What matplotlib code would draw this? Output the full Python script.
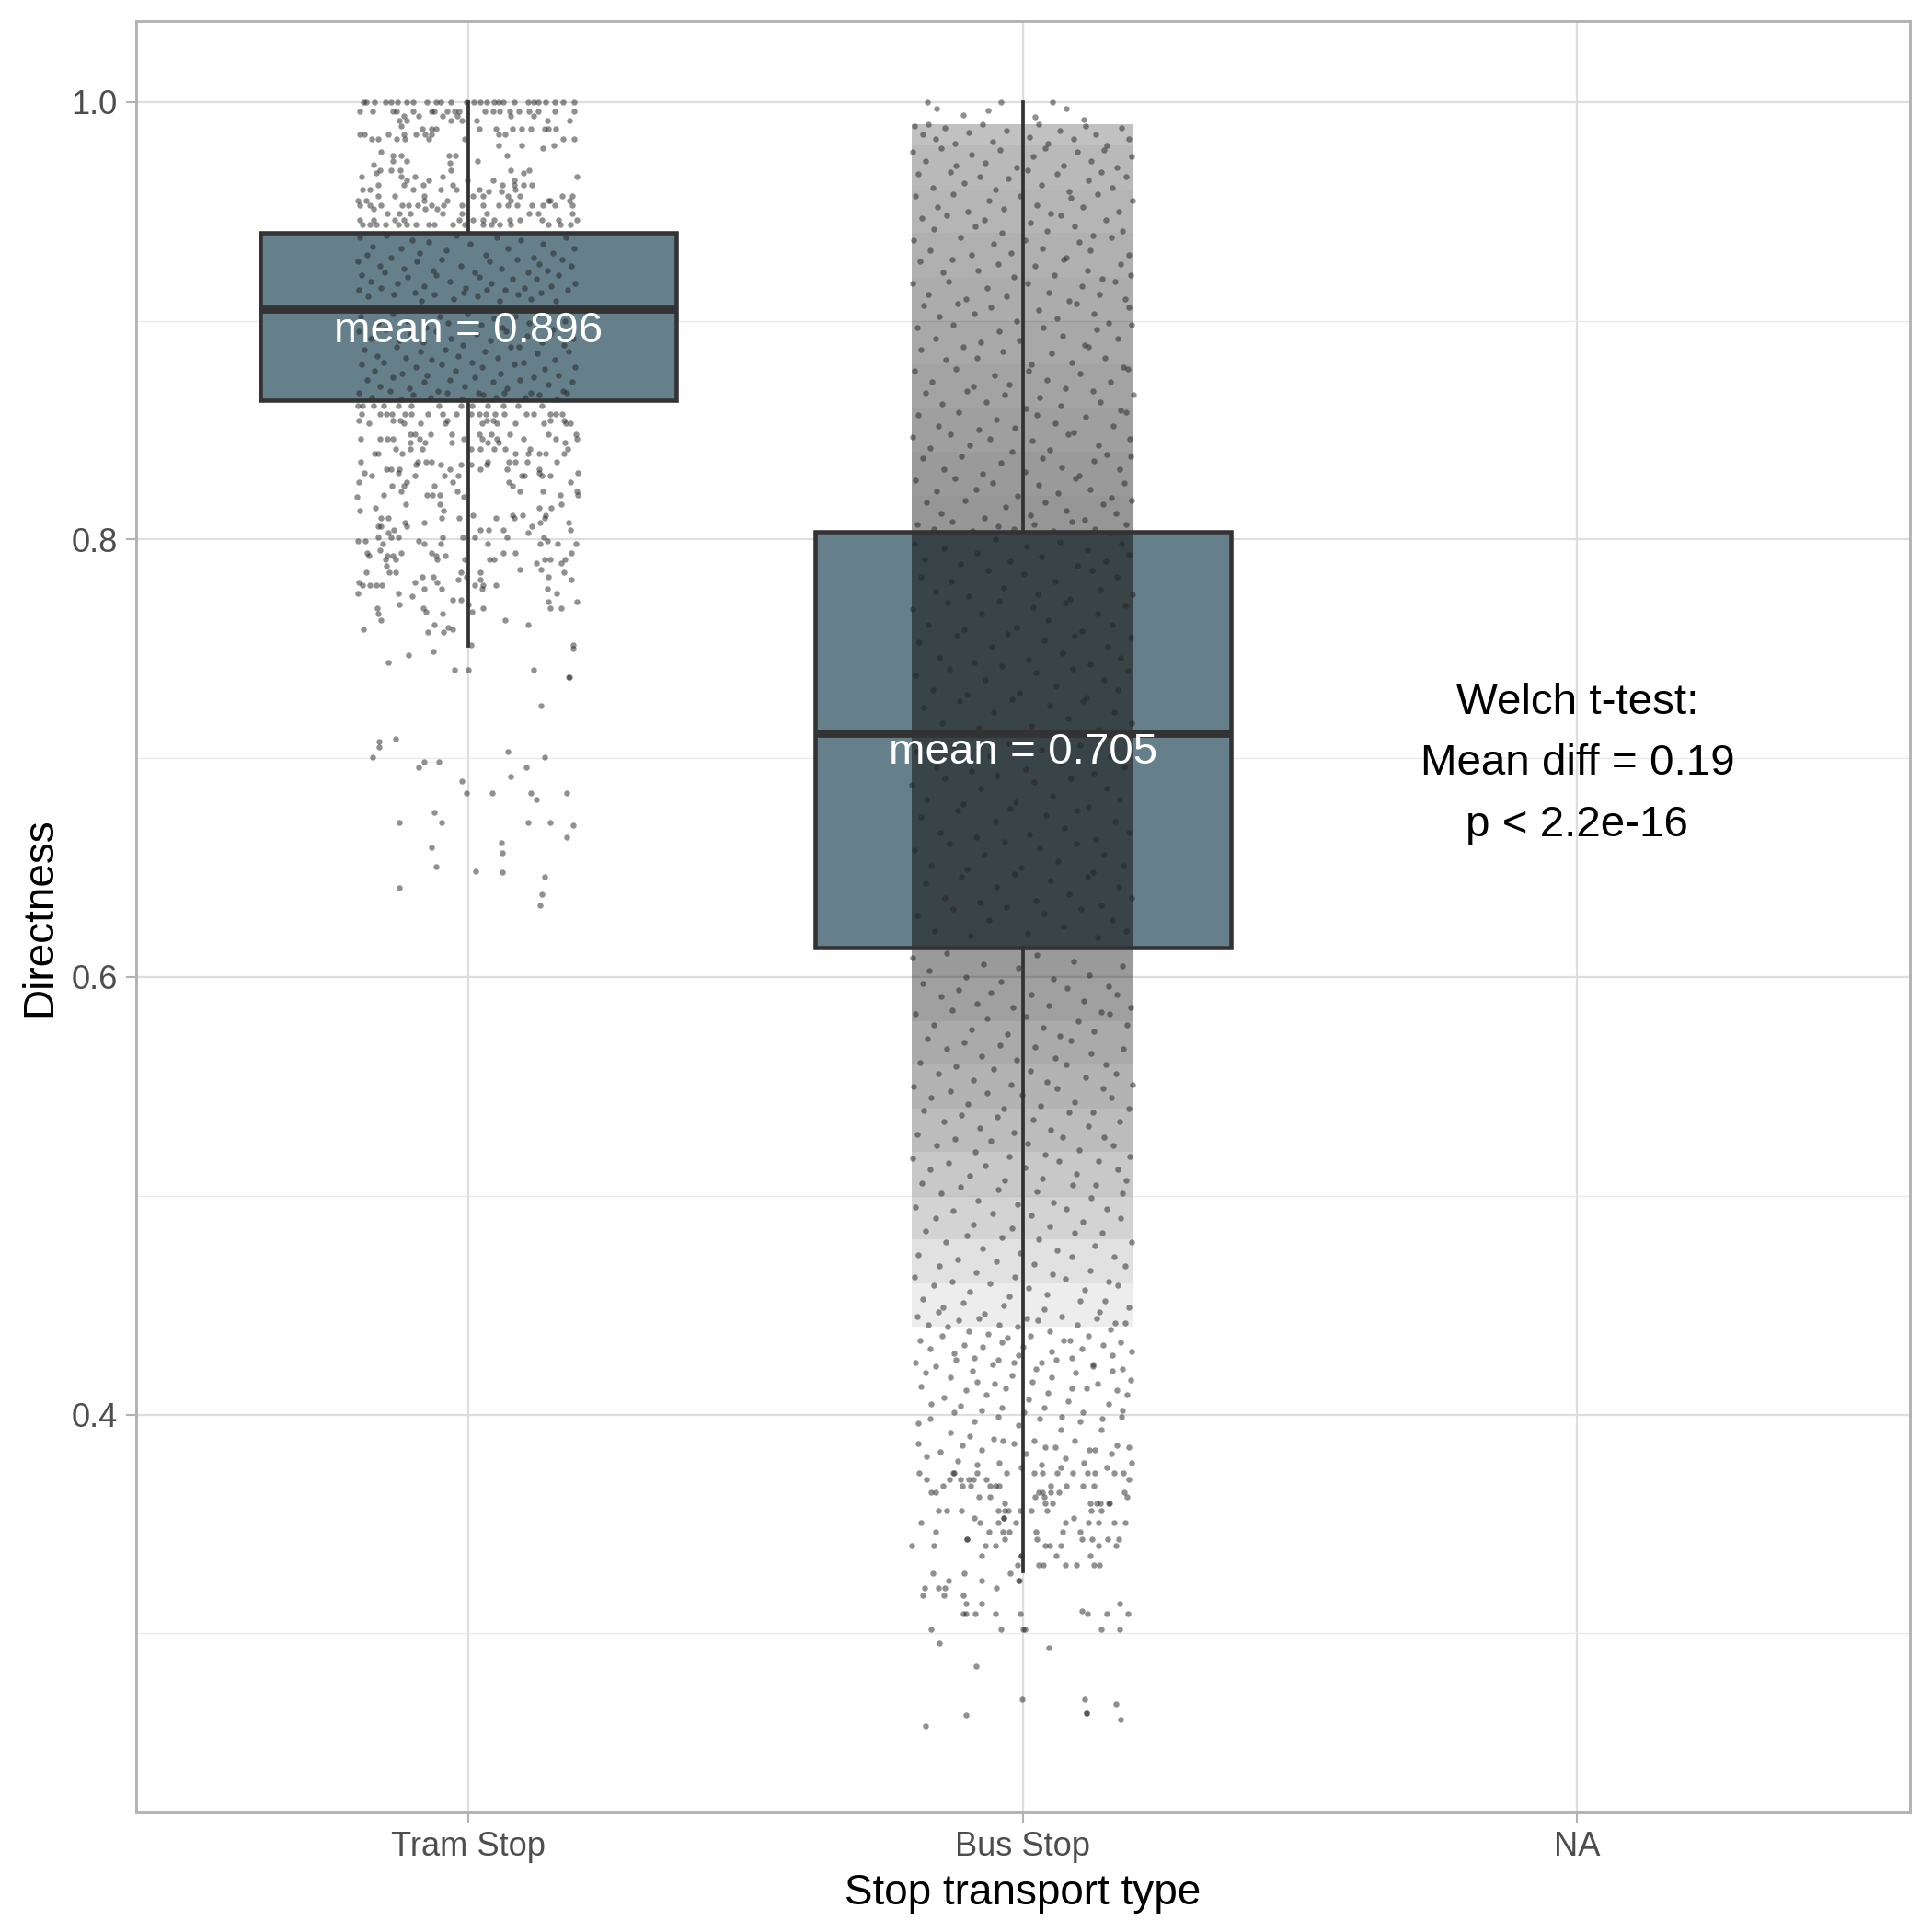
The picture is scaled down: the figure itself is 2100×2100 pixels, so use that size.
#!/usr/bin/env python
# -*- coding: utf-8 -*-
"""
Directness by stop transport type: boxplot with jittered points.
Points are read off the picture: rows are (directness, [jitter in 1/1000 x unit, ...]),
clouds are (jitter, directness) pairs, both in 1/1000.
The bus cloud is too dense to read point by point, so bus_band_* holds its read darkness per y bin.
"""
import matplotlib
matplotlib.use("Agg")
import matplotlib.pyplot as plt

categories = ["Tram Stop", "Bus Stop", "NA"]
y_ticks = [0.4, 0.6, 0.8, 1.0]
y_minor = [0.3, 0.5, 0.7, 0.9]

tram_box = dict(whislo=0.7514, q1=0.8636, med=0.9054, q3=0.9403, whishi=1.0)
bus_box = dict(whislo=0.3283, q1=0.6135, med=0.7115, q3=0.8034, whishi=1.0)
mean_label_y = [0.895, 0.7025]
mean_labels = ["mean = 0.896", "mean = 0.705"]
test_label = "Welch t-test:\nMean diff = 0.19\np < 2.2e-16"

tram_rows = [
    (1.000, [-184, -169, -150, -128, -111, -100, -58, -50, -31, -3, 10, 21, 33, 46, 63, 82, 118, 126, 140, 156, 170, 191, -190, -140, -75, 55, 108]),
    (0.9958, [-196, -173, -136, -130, -99, -67, -61, -39, -25, -17, 30, 44, 57, 74, 91, 109, 126, 156, 190]),
    (0.9937, [-116, -89, -47, -20, 77, 118]),
    (0.9916, [-125, -111, -31, -12, 15, 143, 182]),
    (0.989, [-122]),
    (0.9878, [-83, -67, -58, 20, 49, 79, 96, 112, 137, 145, 158]),
    (0.9853, [-196, -188, -144, -116, -94, -78, -67, 55, 66]),
    (0.983, [-174, -163, -130, -115, -72, -6, 190, 170]),
    (0.98, [55, 96, 154]),
    (0.979, [134]),
    (0.9772, [-158]),
    (0.9755, [-136, -122, -35, -23, 70]),
    (0.973, [-136, -111, 16]),
    (0.972, [-34]),
    (0.9713, [-171]),
    (0.969, [-160, -140, -123, -31, 77, 110]),
    (0.9675, [-166, 99]),
    (0.966, [-193, -122, -97, -46, 195]),
    (0.9643, [-111, -72, 44, 82, -1]),
    (0.962, [-162, -28, -82, -116, 61, 100, 82, 115]),
    (0.96, [-100, -191, -177, -50, -21, 19, 85]),
    (0.959, [36, 60]),
    (0.957, [-163, -133, -80, 8, 27, 71, 93, 169, 187]),
    (0.955, [-199, -185, -80, -39, 145, 77, 148, 182]),
    (0.9527, [-196, -177, -158, -119, -108, -91, -67, -45, -12, 27, 55, 71, 88, 115, 134, 156, 187]),
    (0.951, [-171, -78, -56]),
    (0.949, [-147, -125, -105, -47, -12, 33, 110, 126, 187]),
    (0.946, [-196, -171, -133, -116, -17, 8, 27, 46, 74, 93, 132, 162, 195]),
    (0.944, [-191, -177, -166, -149, -127, -111, -94, -72, -61, -28, -6, 27, 41, 57, 77, 145, 165, 184]),
    (0.861, [-199, -191, -171, -152, -126, -103, -53, -13, 6, 35, 63, 90, 132]),
    (0.8574, [-193, -160, -148, -138, -114, -103, -73, -46, -22, 5, 20, 31, 48, 64, 105, 117, 148, 157, 169]),
    (0.8546, [-198, -136, -123, -38, 33, 44, 148, 173]),
    (0.853, [-179, -117, -87, -42, 25, 52, 84, 136, 176, 184]),
    (0.8483, [-105, -97, -69, -30, 20, 41, 75, 145, 194]),
    (0.8462, [-194, -160, -146, -136, -88, -8, 24, 52, 100, 158, 195]),
    (0.8444, [-104, -78, -30, 35, 55, 174]),
    (0.8413, [-104, -83, -132, 5, 21, 46, 66, 111, 179]),
    (0.8392, [-170, -162, -120, 108, 128, 139, 85, 173]),
    (0.8355, [-195, -92, -77, -66, 35, 73, 106, 159, 85]),
    (0.8341, [-94, -50, -14, 5, 33]),
    (0.8323, [-148, -139, -124, -33, 21, 70, 127]),
    (0.8304, [-187, -127, 128, 197]),
    (0.829, [-175, -96, -44, -19, 96, 101, 147, 132]),
    (0.8262, [-198, -111, -28, 73, 184]),
    (0.8246, [-138, -116, -61, 79]),
    (0.822, [-20, 93, 135, 195, -122]),
    (0.8204, [-75, -65, -52, 165, 197, -153]),
    (0.8193, [-201, -9]),
    (0.816, [-113, -52, 168]),
    (0.8144, [-167, 150, 127]),
    (0.813, [-196, -45]),
    (0.8113, [8, 79, 97, 139]),
    (0.8099, [-157, -145, -49, -17, 49, 82, 137]),
    (0.8078, [-80, -115, 129, 180]),
    (0.8061, [-162, -158, -112, 114]),
    (0.8043, [-134, 21, 37, 63, 184]),
    (0.8033, [-145, 107]),
    (0.8012, [-163, -139, -127, -47, -10, 11, 69, 136]),
    (0.7994, [-200, -186, -90, 142]),
    (0.798, [-155, -79, -50, 34, 129, 161, 194]),
    (0.7952, [-159]),
    (0.7938, [-183, -122, -67, 63, 84, 185]),
    (0.7924, [-180, -146, -58, -42, -136]),
    (0.791, [-149, -131, -57, -7, 38, 46, 137, 147, 174]),
    (0.7894, [122, 168]),
    (0.788, [-148]),
    (0.7861, [93, 131]),
    (0.785, [-185, -143, -132, -13, 21, 173]),
    (0.7831, [-83, -63, -3, 144]),
    (0.7817, [-19, 22, 185]),
    (0.7803, [-198, -96, -56]),
    (0.7791, [-191, -178, -166, -156, 12, 27, 50]),
    (0.7775, [-79, -48, 25, 143]),
    (0.7754, [-200, -126, 159]),
    (0.7743, [-102]),
    (0.7726, [-28, -13]),
    (0.7715, [145, 195]),
    (0.7705, [-124, 0]),
    (0.7687, [-164, -82, 27, 147, 168]),
    (0.767, [-76, 6]),
    (0.7661, [-163, -46]),
    (0.7633, [66, -158]),
    (0.7609, [-62, 108]),
    (0.76, [-37]),
    (0.7589, [-189, -28]),
    (0.7575, [-73, -45]),
    (0.752, [4, 189]),
    (0.75, [189]),
    (0.749, [-63]),
    (0.747, [-108]),
    (0.744, [-145]),
    (0.7405, [-25, 0, 118]),
    (0.737, [183, 181]),
    (0.724, [131]),
    (0.709, [-131]),
    (0.7075, [-161]),
    (0.705, [-161]),
    (0.703, [72]),
    (0.7005, [-172, 138]),
    (0.6984, [-80, -53]),
    (0.6958, [-90, 105]),
    (0.6917, [77]),
    (0.6894, [-11]),
    (0.684, [-3, 43, 112, 178]),
    (0.6812, [123]),
    (0.6752, [-61]),
    (0.6706, [-124, -48, 108, 148]),
    (0.6692, [189]),
    (0.6638, [177]),
    (0.6613, [59]),
    (0.6595, [-66]),
    (0.6567, [61]),
    (0.6506, [-58]),
    (0.6485, [13]),
    (0.6478, [61]),
    (0.646, [138]),
    (0.6408, [-125]),
    (0.6377, [133]),
    (0.6327, [129]),
]

# tram points inside the box, estimated
tram_cloud = [
    (-196, 938), (-172, 934), (-148, 939), (-121, 933), (-102, 937), (-88, 931), (-71, 936), (-40, 932), (-22, 939), (3, 935), (31, 930), (52, 938), (71, 933), (94, 937), (118, 929), (135, 935), (152, 931), (176, 938), (190, 933),
    (-199, 927), (-183, 930), (-160, 925), (-139, 929), (-116, 924), (-93, 927), (-64, 923), (-49, 928), (-14, 925), (12, 922), (38, 927), (60, 924), (87, 928), (108, 922), (127, 926), (143, 923), (169, 928), (186, 925),
    (-192, 921), (-176, 918), (-151, 922), (-128, 917), (-110, 920), (-79, 916), (-58, 921), (-33, 918), (-5, 915), (20, 920), (42, 917), (66, 914), (79, 919), (101, 915), (122, 919), (150, 916), (163, 921), (193, 917),
    (-197, 914), (-181, 911), (-158, 915), (-134, 912), (-97, 913), (-85, 909), (-62, 912), (-27, 910), (-9, 913), (16, 911), (33, 914), (57, 909), (90, 912), (113, 910), (131, 913), (158, 909), (179, 914),
    (-195, 902), (-162, 899), (-136, 903), (-109, 900), (-77, 897), (-51, 902), (-36, 899), (-2, 903), (23, 898), (47, 901), (61, 897), (84, 902), (110, 899), (126, 903), (152, 896), (174, 900),
    (-198, 895), (-176, 892), (-149, 896), (-125, 891), (-104, 894), (-82, 890), (-59, 895), (-31, 892), (-10, 889), (14, 894), (39, 891), (68, 895), (91, 888), (106, 893), (133, 890), (147, 894), (172, 889), (189, 892),
    (-188, 887), (-164, 884), (-130, 888), (-113, 883), (-87, 886), (-66, 882), (-41, 887), (-19, 884), (6, 881), (30, 886), (53, 883), (77, 888), (99, 881), (124, 885), (155, 882), (181, 886),
    (-193, 880), (-170, 877), (-152, 881), (-119, 876), (-95, 879), (-74, 875), (-48, 880), (-23, 877), (11, 874), (25, 879), (58, 876), (82, 880), (117, 874), (138, 878), (163, 875), (193, 879),
    (-183, 873), (-159, 870), (-137, 874), (-107, 869), (-80, 872), (-55, 868), (-34, 873), (-7, 870), (18, 867), (44, 872), (70, 869), (93, 873), (112, 867), (144, 871), (170, 868), (187, 872),
    (-197, 867), (-174, 865), (-142, 868), (-121, 864), (-99, 866), (-68, 865), (-38, 867), (-12, 864), (27, 866), (50, 865), (64, 867), (103, 865), (128, 866), (159, 864), (178, 867),
]

bus_rows = [
    (1.000, [-172, -40, 53]),
    (0.3735, [-187, -125, -124, -82, -29, 20, 35, 62, 90, 116, 130, 164, 182]),
    (0.3703, [-174, -132, -113, -98, -89, -66, 192]),
    (0.3675, [-59, -49, -94, -109, -144, -43, 51, 78, 109, 129]),
    (0.3643, [-165, -157, 28, 35, 51, 65, 183]),
    (0.3622, [-79, -59, 22, 39, 188]),
    (0.3594, [-33, 40, 54, 121, 133, 154, 139, 156]),
    (0.3563, [-152, -137, -110, -44, -33, -26, -4, 15, 44, 123, 141]),
    (0.3528, [-88, -34, -34, 91]),
    (0.3507, [-183, -78, -45, -13, 77, 137, 165, 185, 119]),
    (0.3466, [-158, -61, -36, -25, 24, 71, 103]),
    (0.343, [-100, -100, -33, 25, 107, 125, 153, 173]),
    (0.3403, [-201, -68, -50, 40, 49, 68, 136, -161, 168]),
    (0.3354, [-3, 60, 122, -3, -75]),
    (0.3314, [76, 128, 28, 37, 96, 138, -10]),
    (0.3277, [-162, -105, -23]),
    (0.3242, [-75, -134, -8, -6]),
    (0.3207, [-177, -152, -140, -48]),
    (0.3176, [-180, -142, -107]),
    (0.3137, [-102, -75, 175]),
    (0.3102, [106]),
    (0.309, [-86, 152, 189, -4, 117, -49, -107, -103]),
    (0.3018, [0, -40, 4, 142, 174, -166]),
    (0.2955, [-151]),
    (0.2934, [47]),
    (0.2849, [-84]),
    (0.2698, [-2, 112]),
    (0.2678, [168]),
    (0.2637, [115, 115]),
    (0.2627, [-102]),
    (0.2606, [177]),
    (0.2575, [-175]),
]

# bus points above the tail, estimated: only a sample of the dense cloud
bus_cloud = [
    (-156, 997), (-108, 994), (-62, 996), (22, 993), (78, 997), (110, 992),
    (-195, 989), (-181, 985), (-170, 990), (-158, 983), (-140, 988), (-122, 981), (-98, 986), (-73, 990), (-55, 982), (-30, 987), (12, 984), (28, 990), (45, 981), (66, 987), (91, 983), (113, 989), (132, 985), (151, 980), (178, 988), (192, 983),
    (-199, 977), (-176, 973), (-147, 979), (-120, 971), (-93, 976), (-68, 972), (-41, 978), (-12, 970), (18, 975), (40, 979), (73, 971), (98, 977), (124, 973), (147, 978), (169, 970), (196, 975),
    (-188, 967), (-163, 961), (-131, 968), (-105, 963), (-77, 966), (-49, 960), (-26, 965), (8, 969), (33, 962), (61, 967), (84, 959), (118, 964), (141, 968), (162, 961), (187, 966),
    (-193, 957), (-154, 952), (-126, 958), (-99, 950), (-61, 955), (-34, 951), (-5, 957), (26, 953), (50, 949), (87, 956), (109, 952), (135, 958), (173, 950), (198, 955),
    (-182, 947), (-160, 942), (-137, 948), (-86, 943), (-70, 946), (-38, 940), (14, 945), (43, 941), (68, 948), (93, 943), (127, 939), (150, 946), (180, 941),
    (-197, 937), (-168, 932), (-113, 938), (-92, 930), (-53, 935), (-21, 931), (3, 937), (35, 933), (79, 929), (102, 936), (121, 932), (159, 938), (191, 930),
    (-186, 927), (-144, 922), (-128, 928), (-81, 923), (-45, 926), (-16, 920), (22, 925), (57, 921), (74, 928), (116, 923), (143, 919), (176, 926), (194, 921),
    (-199, 917), (-171, 912), (-134, 918), (-102, 910), (-64, 915), (-29, 911), (9, 917), (47, 913), (83, 909), (106, 916), (138, 912), (166, 918), (185, 910),
    (-178, 907), (-150, 902), (-118, 908), (-88, 903), (-58, 906), (-11, 900), (29, 905), (62, 901), (97, 908), (129, 903), (155, 899), (192, 906),
    (-191, 897), (-157, 892), (-125, 898), (-76, 890), (-43, 895), (-7, 891), (37, 897), (71, 893), (111, 889), (133, 896), (171, 892), (197, 898),
    (-184, 887), (-139, 882), (-108, 888), (-83, 883), (-36, 886), (16, 880), (52, 885), (89, 881), (119, 888), (148, 883), (182, 879),
    (-196, 877), (-164, 872), (-121, 878), (-90, 870), (-51, 875), (-24, 871), (11, 877), (44, 873), (76, 869), (104, 876), (158, 872), (189, 878),
    (-175, 867), (-146, 862), (-100, 868), (-66, 863), (-33, 866), (6, 860), (31, 865), (68, 861), (126, 868), (140, 863), (177, 859), (199, 866),
    (-189, 857), (-152, 852), (-116, 858), (-79, 850), (-47, 855), (-14, 851), (25, 857), (59, 853), (92, 849), (114, 856), (163, 852), (186, 858),
    (-198, 847), (-167, 842), (-130, 848), (-95, 843), (-60, 846), (-20, 840), (17, 845), (49, 841), (81, 848), (136, 843), (152, 839), (193, 846),
    (-180, 837), (-142, 832), (-110, 838), (-72, 830), (-39, 835), (4, 831), (36, 837), (70, 833), (101, 829), (128, 836), (174, 832), (195, 838),
    (-193, 827), (-155, 822), (-123, 828), (-84, 823), (-54, 826), (-9, 820), (28, 825), (63, 821), (95, 828), (122, 823), (160, 819), (183, 826),
    (-173, 817), (-148, 812), (-104, 818), (-69, 810), (-31, 815), (13, 811), (41, 817), (78, 813), (112, 809), (144, 816), (168, 812), (197, 818),
    (-190, 807), (-161, 805), (-127, 808), (-91, 804), (-44, 806), (-17, 805), (20, 807), (56, 804), (88, 808), (130, 805), (156, 803), (187, 807),
    (-196, 798), (-177, 791), (-143, 796), (-112, 789), (-82, 794), (-49, 800), (-23, 790), (7, 797), (34, 792), (66, 799), (99, 788), (117, 795), (149, 790), (178, 798), (192, 793),
    (-184, 783), (-158, 776), (-129, 781), (-97, 774), (-63, 786), (-35, 778), (2, 784), (27, 775), (58, 781), (85, 773), (125, 786), (139, 777), (169, 783), (198, 775),
    (-199, 768), (-170, 761), (-136, 771), (-105, 759), (-74, 766), (-42, 772), (-12, 760), (19, 769), (46, 763), (77, 771), (107, 758), (134, 766), (162, 761), (185, 770),
    (-187, 753), (-151, 746), (-119, 756), (-88, 744), (-56, 751), (-28, 757), (10, 745), (39, 754), (72, 748), (94, 756), (121, 743), (153, 751), (176, 746), (194, 755),
    (-194, 738), (-163, 731), (-132, 741), (-100, 729), (-67, 736), (-37, 742), (-6, 730), (24, 739), (60, 733), (90, 741), (115, 728), (146, 736), (172, 731), (190, 740),
    (-179, 723), (-145, 716), (-114, 726), (-80, 714), (-52, 721), (-19, 727), (15, 715), (48, 724), (82, 718), (108, 726), (137, 713), (165, 721), (196, 716),
    (-192, 703), (-156, 696), (-124, 706), (-93, 694), (-59, 701), (-26, 707), (5, 695), (33, 704), (69, 698), (103, 706), (128, 693), (158, 701), (183, 696),
    (-200, 688), (-174, 681), (-140, 691), (-107, 679), (-76, 686), (-46, 692), (-13, 680), (21, 689), (54, 683), (86, 691), (118, 678), (151, 686), (175, 681),
    (-183, 673), (-149, 666), (-117, 676), (-85, 664), (-50, 671), (-22, 677), (12, 665), (42, 674), (75, 668), (98, 676), (131, 663), (167, 671), (192, 666),
    (-195, 658), (-165, 651), (-133, 661), (-101, 649), (-70, 656), (-33, 662), (-3, 650), (30, 659), (64, 653), (96, 661), (126, 648), (147, 656), (181, 651),
    (-176, 643), (-141, 636), (-111, 646), (-78, 634), (-48, 641), (-15, 647), (23, 635), (51, 644), (83, 638), (116, 646), (142, 633), (173, 641), (197, 636),
    (-190, 628), (-159, 621), (-126, 631), (-94, 619), (-61, 626), (-30, 632), (8, 620), (38, 629), (73, 623), (105, 631), (135, 618), (161, 626), (186, 621),
    (-198, 609), (-169, 603), (-137, 611), (-103, 600), (-71, 606), (-40, 598), (-8, 604), (26, 610), (55, 599), (91, 607), (120, 601), (154, 596), (179, 605),
    (-181, 597), (-147, 591), (-115, 594), (-83, 588), (-57, 593), (-18, 586), (16, 592), (47, 587), (80, 595), (110, 589), (141, 584), (170, 592), (195, 586),
    (-193, 583), (-160, 578), (-128, 585), (-92, 576), (-64, 581), (-27, 574), (6, 582), (37, 577), (67, 573), (100, 580), (129, 575), (157, 583), (188, 578),
    (-172, 572), (-138, 567), (-106, 570), (-75, 564), (-41, 569), (-11, 562), (22, 568), (58, 563), (87, 571), (123, 565), (150, 560), (182, 567),
    (-186, 561), (-153, 556), (-120, 559), (-89, 553), (-53, 558), (-21, 551), (13, 557), (43, 552), (79, 560), (113, 554), (144, 549), (168, 556), (198, 551),
    (-197, 550), (-166, 545), (-131, 548), (-99, 542), (-65, 547), (-34, 540), (-1, 546), (32, 541), (61, 549), (94, 543), (127, 538), (159, 545), (191, 540),
    (-178, 539), (-143, 534), (-110, 537), (-77, 531), (-46, 536), (-16, 529), (18, 535), (50, 530), (84, 538), (118, 532), (146, 527), (175, 534),
    (-191, 528), (-156, 523), (-122, 526), (-86, 520), (-58, 525), (-25, 518), (9, 524), (40, 519), (71, 527), (102, 521), (136, 516), (163, 523), (193, 518),
    (-199, 517), (-168, 512), (-134, 515), (-96, 509), (-68, 514), (-32, 507), (3, 513), (35, 508), (65, 516), (97, 510), (132, 505), (171, 512), (187, 507),
    (-182, 506), (-148, 501), (-112, 504), (-81, 498), (-44, 503), (-10, 496), (25, 502), (56, 497), (90, 505), (124, 499), (152, 494), (180, 501),
    (-194, 495), (-157, 490), (-125, 493), (-90, 487), (-55, 492), (-20, 485), (15, 491), (48, 486), (78, 494), (109, 488), (143, 483), (177, 490),
    (-175, 484), (-139, 479), (-101, 482), (-73, 476), (-38, 481), (-5, 474), (29, 480), (62, 475), (93, 483), (130, 477), (164, 472), (196, 479),
    (-188, 473), (-150, 468), (-118, 471), (-84, 465), (-47, 470), (-14, 463), (20, 469), (53, 464), (88, 472), (122, 466), (155, 461), (184, 468),
    (-196, 463), (-161, 459), (-127, 461), (-95, 456), (-60, 460), (-24, 454), (11, 458), (44, 455), (76, 462), (111, 457), (148, 452), (172, 459),
    (-180, 453), (-144, 449), (-108, 451), (-69, 446), (-35, 450), (7, 444), (39, 448), (70, 445), (104, 452), (138, 447), (167, 442), (192, 449),
    (-190, 445), (-171, 441), (-152, 447), (-135, 440), (-116, 443), (-98, 438), (-79, 444), (-62, 437), (-42, 441), (-28, 435), (-9, 440), (14, 436), (27, 443), (49, 438), (85, 434), (99, 441), (119, 436), (133, 444), (158, 439), (176, 433), (185, 442),
    (-186, 434), (-167, 430), (-146, 436), (-124, 428), (-105, 432), (-87, 426), (-72, 431), (-45, 425), (-37, 433), (-8, 427), (1, 431), (34, 424), (52, 429), (74, 434), (89, 426), (107, 430), (126, 423), (145, 432), (162, 427), (179, 421), (197, 429),
    (-193, 424), (-176, 419), (-158, 422), (-130, 417), (-121, 425), (-91, 420), (-82, 415), (-54, 423), (-51, 414), (-19, 418), (-17, 424), (17, 415), (24, 421), (52, 417), (60, 425), (89, 412), (95, 419), (126, 422), (134, 414), (162, 420), (169, 411), (194, 416),
    (-184, 413), (-142, 408), (-165, 405), (-103, 411), (-112, 404), (-66, 409), (-74, 402), (-31, 412), (-38, 403), (10, 407), (2, 401), (45, 410), (38, 403), (81, 406), (70, 399), (115, 412), (108, 401), (154, 405), (143, 398), (188, 409), (179, 402),
    (-167, 398), (-189, 396), (-124, 401), (-131, 392), (-87, 397), (-96, 390), (-45, 399), (-53, 389), (-8, 395), (-16, 387), (30, 398), (21, 388), (68, 393), (59, 385), (103, 397), (94, 388), (141, 393), (130, 384), (178, 399), (170, 386),
    (-188, 387), (-149, 383), (-174, 381), (-109, 386), (-117, 379), (-74, 384), (-83, 377), (-36, 388), (-42, 378), (5, 382), (-3, 376), (41, 385), (33, 377), (77, 380), (68, 376), (120, 384), (110, 378), (160, 382), (151, 376), (191, 385), (196, 378),
]

# read darkness of the bus cloud, one value per y bin
bus_band_edges = [0.44, 0.46, 0.48, 0.50, 0.52, 0.54, 0.56, 0.58, 0.60, 0.6135, 0.8034,
                  0.82, 0.84, 0.86, 0.88, 0.90, 0.92, 0.94, 0.96, 0.98, 0.99]
bus_band_dark = [0.08, 0.13, 0.19, 0.24, 0.29, 0.33, 0.37, 0.41, 0.44,
                 0.58, 0.46, 0.44, 0.42, 0.40, 0.38, 0.36, 0.34, 0.32, 0.30, 0.27]


def split_points(rows, cloud, centre):
    xs, ys = [], []
    for y, jitter in rows:
        for j in jitter:
            xs.append(centre + j / 1000)
            ys.append(y)
    for j, y in cloud:
        xs.append(centre + j / 1000)
        ys.append(y / 1000)
    return xs, ys


def plot_and_save():
    plt.rcParams["font.family"] = ["Liberation Sans", "DejaVu Sans"]
    fig = plt.figure(figsize=(7, 7), dpi=300)
    ax = fig.add_axes([147.5 / 2100, 129.6 / 2100, 1928.5 / 2100, 1947.6 / 2100])

    ax.set_xlim(0.4, 3.6)
    ax.set_ylim(0.218, 1.037)

    stats = [dict(tram_box, fliers=[]), dict(bus_box, fliers=[])]
    ax.bxp(stats, positions=[1, 2], widths=0.75, patch_artist=True, showcaps=False, showfliers=False,
           boxprops=dict(facecolor="#657F8B", edgecolor="none"),
           medianprops=dict(linewidth=0), whiskerprops=dict(linewidth=0), zorder=2)

    heights = [b - a for a, b in zip(bus_band_edges[:-1], bus_band_edges[1:])]
    ax.barh(bus_band_edges[:-1], 0.4, height=heights, left=1.8, align="edge",
            color=[(0.1, 0.1, 0.1, d) for d in bus_band_dark], linewidth=0, antialiased=False, zorder=3)

    for rows, cloud, centre in ((tram_rows, tram_cloud, 1), (bus_rows, bus_cloud, 2)):
        xs, ys = split_points(rows, cloud, centre)
        ax.scatter(xs, ys, s=2.4, color="#222222", alpha=0.5, linewidths=0, zorder=3.5)

    ax.bxp(stats, positions=[1, 2], widths=0.75, patch_artist=True, showcaps=False, showfliers=False,
           boxprops=dict(facecolor="none", edgecolor="#333333", linewidth=1.1),
           medianprops=dict(color="#333333", linewidth=2.1, solid_capstyle="butt"),
           whiskerprops=dict(color="#333333", linewidth=0.9), zorder=4)

    for i, label in enumerate(mean_labels):
        ax.text(i + 1, mean_label_y[i], label, color="white", fontsize=11.4, ha="center", va="center", zorder=5)
    ax.text(3, 0.6975, test_label, color="black", fontsize=11.4, ha="center", va="center", linespacing=1.66, zorder=5)

    ax.set_xticks([1, 2, 3], categories)
    ax.set_yticks(y_ticks, ["0.4", "0.6", "0.8", "1.0"])
    ax.set_yticks(y_minor, minor=True)
    ax.tick_params(axis="both", which="major", length=2.75, width=0.5, color="#B3B3B3",
                   labelcolor="#4D4D4D", labelsize=8.7, pad=2)
    ax.tick_params(axis="y", which="minor", length=0)
    ax.grid(True, which="major", color="#DEDEDE", linewidth=0.55, zorder=0)
    ax.grid(True, which="minor", axis="y", color="#E8E8E8", linewidth=0.3, zorder=0)
    ax.set_axisbelow(True)
    for spine in ax.spines.values():
        spine.set_color("#B3B3B3")
        spine.set_linewidth(0.7)

    ax.set_xlabel("Stop transport type", fontsize=11, labelpad=2.5)
    ax.set_ylabel("Directness", fontsize=11, labelpad=3)
    fig.savefig("out.png", dpi=300)


if __name__ == '__main__':
    plot_and_save()
